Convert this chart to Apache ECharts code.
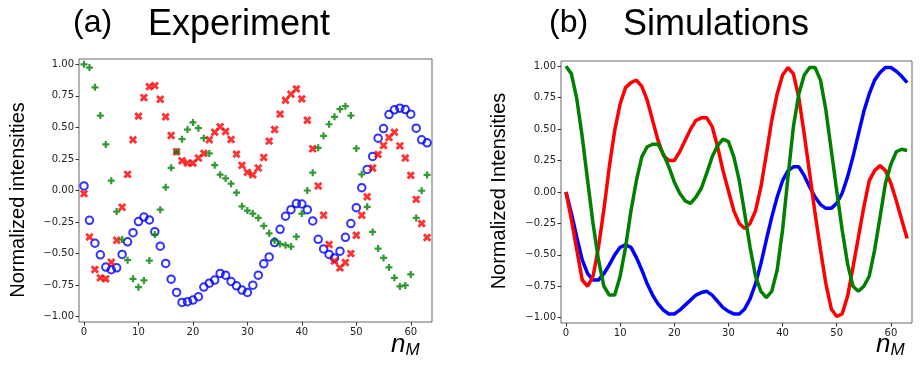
<!DOCTYPE html>
<html>
<head>
<meta charset="utf-8">
<script src="https://cdn.jsdelivr.net/npm/echarts@6/dist/echarts.min.js"></script>
<style>html,body{margin:0;padding:0;background:#fff;}#c{width:922px;height:368px;}</style>
</head>
<body>
<div id="c"></div>
<script>
const nValues = [0,1,2,3,4,5,6,7,8,9,10,11,12,13,14,15,16,17,18,19,20,21,22,23,24,25,26,27,28,29,30,31,32,33,34,35,36,37,38,39,40,41,42,43,44,45,46,47,48,49,50,51,52,53,54,55,56,57,58,59,60,61,62,63];
const xTicks = [0,10,20,30,40,50,60];
const yTicks = [-1,-0.75,-0.5,-0.25,0,0.25,0.5,0.75,1];

// Experiment (a)
const expBlue = [0.036,-0.236,-0.418,-0.510,-0.607,-0.628,-0.613,-0.507,-0.407,-0.334,-0.246,-0.210,-0.233,-0.326,-0.441,-0.578,-0.703,-0.808,-0.887,-0.881,-0.868,-0.842,-0.765,-0.734,-0.710,-0.657,-0.671,-0.721,-0.755,-0.789,-0.808,-0.750,-0.671,-0.581,-0.526,-0.413,-0.308,-0.204,-0.152,-0.104,-0.107,-0.152,-0.241,-0.387,-0.463,-0.507,-0.534,-0.481,-0.371,-0.262,-0.136,0.022,0.167,0.270,0.415,0.491,0.602,0.639,0.652,0.641,0.605,0.494,0.402,0.378];
const expRed = [-0.025,-0.368,-0.626,-0.692,-0.700,-0.568,-0.394,-0.133,0.128,0.402,0.589,0.736,0.823,0.831,0.723,0.584,0.436,0.307,0.236,0.217,0.217,0.257,0.294,0.402,0.462,0.505,0.468,0.404,0.288,0.199,0.144,0.125,0.178,0.262,0.391,0.483,0.605,0.715,0.763,0.805,0.726,0.557,0.331,0.036,-0.196,-0.428,-0.560,-0.613,-0.571,-0.500,-0.355,-0.196,-0.049,0.178,0.286,0.357,0.420,0.462,0.354,0.257,0.120,-0.070,-0.262,-0.373];
const expGreen = [1.000,0.974,0.818,0.594,0.365,0.078,-0.167,-0.389,-0.552,-0.700,-0.766,-0.713,-0.555,-0.349,-0.152,0.025,0.180,0.307,0.407,0.483,0.539,0.494,0.415,0.294,0.201,0.125,0.096,0.054,-0.017,-0.125,-0.159,-0.183,-0.217,-0.281,-0.339,-0.397,-0.423,-0.433,-0.444,-0.366,-0.183,0.000,0.141,0.338,0.433,0.525,0.584,0.644,0.668,0.594,0.333,0.128,-0.129,-0.328,-0.460,-0.534,-0.610,-0.692,-0.760,-0.752,-0.665,-0.217,-0.002,0.123];

// Simulations (b)
const simBlue = [0,-0.17,-0.36,-0.54,-0.65,-0.70,-0.70,-0.65,-0.58,-0.50,-0.44,-0.42,-0.44,-0.52,-0.62,-0.73,-0.82,-0.89,-0.94,-0.97,-0.97,-0.94,-0.90,-0.86,-0.82,-0.80,-0.79,-0.82,-0.87,-0.92,-0.95,-0.97,-0.97,-0.93,-0.85,-0.73,-0.57,-0.38,-0.20,-0.04,0.09,0.17,0.20,0.20,0.13,0.04,-0.04,-0.10,-0.13,-0.13,-0.09,-0.01,0.12,0.28,0.46,0.64,0.78,0.89,0.95,0.99,0.99,0.96,0.92,0.87];
const simRed = [0,-0.22,-0.46,-0.70,-0.75,-0.67,-0.44,-0.14,0.20,0.49,0.70,0.83,0.87,0.89,0.84,0.73,0.57,0.41,0.29,0.25,0.25,0.32,0.41,0.50,0.57,0.59,0.59,0.52,0.36,0.17,0.01,-0.15,-0.25,-0.29,-0.25,-0.15,0.04,0.30,0.57,0.78,0.93,0.99,0.94,0.75,0.46,0.15,-0.17,-0.46,-0.73,-0.93,-0.99,-0.97,-0.83,-0.60,-0.36,-0.12,0.09,0.17,0.21,0.17,0.07,-0.07,-0.22,-0.37];
const simGreen = [1.00,0.94,0.74,0.44,0.09,-0.25,-0.54,-0.75,-0.82,-0.82,-0.67,-0.44,-0.15,0.09,0.28,0.36,0.38,0.38,0.30,0.20,0.08,-0.01,-0.07,-0.09,-0.04,0.03,0.15,0.28,0.37,0.42,0.40,0.28,0.09,-0.17,-0.44,-0.67,-0.79,-0.84,-0.79,-0.62,-0.30,0.12,0.52,0.78,0.93,0.99,0.99,0.89,0.65,0.33,0.01,-0.30,-0.57,-0.75,-0.79,-0.75,-0.67,-0.46,-0.20,0.07,0.22,0.32,0.34,0.33];

const pair = arr => nValues.map((n, i) => [n, arr[i]]);
const PLUS = 'path://M3.4,0H6.6V3.4H10V6.6H6.6V10H3.4V6.6H0V3.4H3.4Z';
const tickFont = {fontFamily: 'DejaVu Sans', fontSize: 10, color: '#222'};
const fmtY = v => (v < 0 ? '\u2212' : '') + Math.abs(v).toFixed(2);

function xAxis(gi) {
  return {
    type: 'value', gridIndex: gi, min: -0.92, max: 63.9, position: 'bottom',
    axisLine: {show: false, onZero: false}, splitLine: {show: false},
    axisTick: {show: true, length: 3.5, lineStyle: {color: '#333'}, customValues: xTicks},
    axisLabel: Object.assign({margin: 5, customValues: xTicks, formatter: v => String(v)}, tickFont)
  };
}
function yAxis(gi) {
  return {
    type: 'value', gridIndex: gi, min: -1.042, max: 1.042, position: 'left',
    axisLine: {show: false, onZero: false}, splitLine: {show: false},
    axisTick: {show: true, length: 3.5, lineStyle: {color: '#333'}, customValues: yTicks},
    axisLabel: Object.assign({margin: 5, customValues: yTicks, formatter: fmtY}, tickFont)
  };
}

const chart = echarts.init(document.getElementById('c'), null, {renderer: 'canvas'});
chart.setOption({
  backgroundColor: '#fff',
  animation: false,
  grid: [
    {left: 79, top: 59, width: 353, height: 263, show: true, borderColor: '#666', borderWidth: 1, backgroundColor: 'transparent'},
    {left: 561, top: 61, width: 351, height: 262, show: true, borderColor: '#666', borderWidth: 1, backgroundColor: 'transparent'}
  ],
  xAxis: [xAxis(0), xAxis(1)],
  yAxis: [yAxis(0), yAxis(1)],
  series: [
    {type: 'scatter', xAxisIndex: 0, yAxisIndex: 0, data: pair(expBlue), symbol: 'circle', symbolSize: 7.5,
     itemStyle: {color: 'rgba(0,0,0,0)', borderColor: '#0000ff', borderWidth: 2}},
    {type: 'scatter', xAxisIndex: 0, yAxisIndex: 0, data: pair(expRed), symbol: PLUS, symbolSize: 9, symbolRotate: 45,
     itemStyle: {color: '#ff0000'}},
    {type: 'scatter', xAxisIndex: 0, yAxisIndex: 0, data: pair(expGreen), symbol: PLUS, symbolSize: 7,
     itemStyle: {color: '#008000'}},
    {type: 'line', xAxisIndex: 1, yAxisIndex: 1, data: pair(simBlue), showSymbol: false, lineStyle: {color: '#0000ff', width: 3.5}},
    {type: 'line', xAxisIndex: 1, yAxisIndex: 1, data: pair(simRed), showSymbol: false, lineStyle: {color: '#ff0000', width: 3.5}},
    {type: 'line', xAxisIndex: 1, yAxisIndex: 1, data: pair(simGreen), showSymbol: false, lineStyle: {color: '#008000', width: 3.5}}
  ],
  graphic: [
    {type: 'text', left: 73, top: 7, style: {text: '(a)', font: '32px "Liberation Sans"', fill: '#000'}},
    {type: 'text', left: 148, top: 7, style: {text: 'Experiment', font: '36px "Liberation Sans"', fill: '#000'}},
    {type: 'text', left: 549, top: 7, style: {text: '(b)', font: '32px "Liberation Sans"', fill: '#000'}},
    {type: 'text', left: 623, top: 7, style: {text: 'Simulations', font: '36px "Liberation Sans"', fill: '#000'}},
    {type: 'text', x: 18, y: 200, rotation: Math.PI / 2,
     style: {text: 'Normalized intensities', font: '20px "Liberation Sans"', fill: '#000', align: 'center', verticalAlign: 'middle'}},
    {type: 'text', x: 499, y: 191, rotation: Math.PI / 2,
     style: {text: 'Normalized Intensities', font: '20px "Liberation Sans"', fill: '#000', align: 'center', verticalAlign: 'middle'}},
    {type: 'text', left: 391, top: 332, style: {text: '{n|n}{m|M}', rich: {
      n: {font: 'italic 26px "Liberation Sans"', fill: '#000'},
      m: {font: 'italic 17px "Liberation Sans"', fill: '#000', padding: [10, 0, 0, 0]}}}},
    {type: 'text', left: 876, top: 332, style: {text: '{n|n}{m|M}', rich: {
      n: {font: 'italic 26px "Liberation Sans"', fill: '#000'},
      m: {font: 'italic 17px "Liberation Sans"', fill: '#000', padding: [10, 0, 0, 0]}}}}
  ]
});
</script>
</body>
</html>
